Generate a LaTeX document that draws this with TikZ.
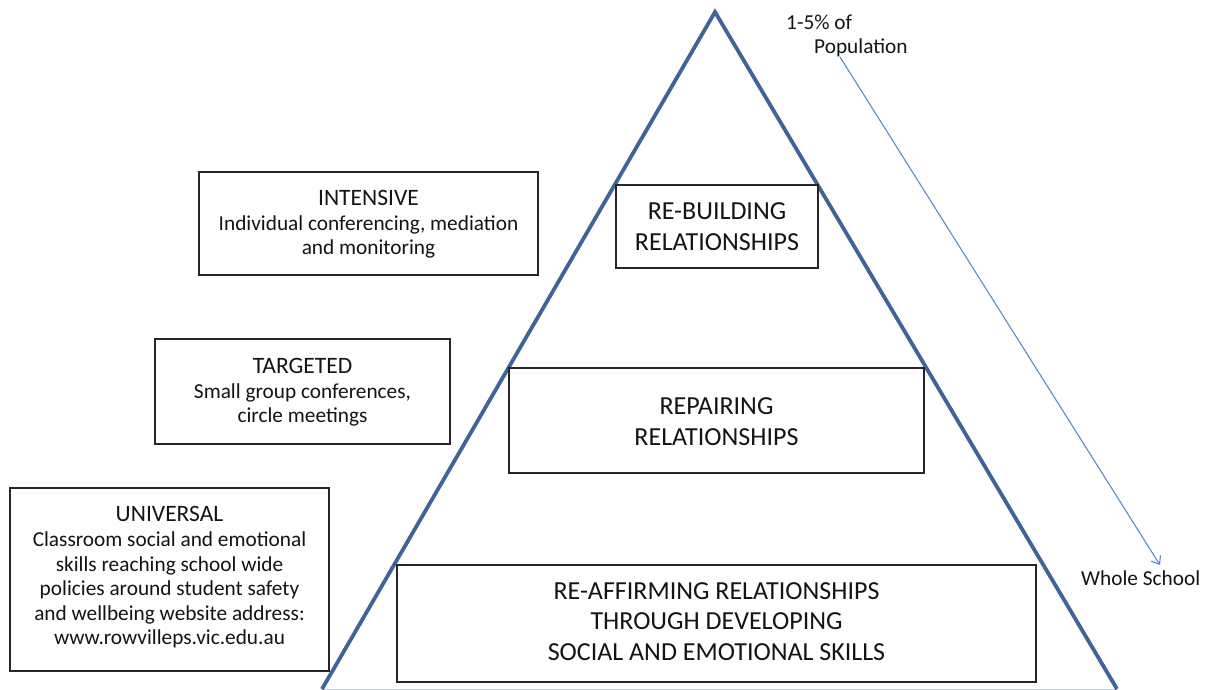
\documentclass[tikz,border=0pt]{standalone}
\usepackage{fontspec}
\setmainfont{Carlito}
\usetikzlibrary{arrows.meta}
\definecolor{triblue}{RGB}{62,100,152}
\definecolor{arrblue}{RGB}{90,138,200}
\definecolor{txt}{RGB}{20,20,20}
\tikzset{
  box/.style={draw=black!85, line width=1.3pt, fill=white, inner sep=0pt, text=txt},
  small/.style={font=\fontsize{21.3}{24.6}\selectfont, align=center, text=txt},
  big/.style={font=\fontsize{26}{30.5}\selectfont, align=center, text=txt},
  lbl/.style={font=\fontsize{21.3}{24}\selectfont, text=txt, inner sep=0pt, anchor=west},
}
\newcommand{\ttlfont}{\fontsize{23.5}{29}\selectfont}
\begin{document}
\begin{tikzpicture}[x=1pt,y=-1pt]
\useasboundingbox (0,0) rectangle (1210,689);
% triangle
\coordinate (apex) at (715,12);
\coordinate (bl) at (322,689);
\coordinate (br) at (1117,689);
\draw[triblue!30, line width=1pt] (bl) -- (br);
\draw[triblue, line width=3.8pt, line join=miter] (bl) -- (apex) -- (br);
% pyramid boxes
\node[box, minimum width=202pt, minimum height=83pt] (rebuild) at (717,226.5) {};
\node[big] at (rebuild.center) {RE-BUILDING\\RELATIONSHIPS};
\node[box, minimum width=415pt, minimum height=105pt] (repair) at (716.5,420.5) {};
\node[big] at ([yshift=-1pt]repair.center) {REPAIRING\\RELATIONSHIPS};
\node[box, minimum width=639pt, minimum height=117pt] (reaff) at (716.5,623.5) {};
\node[big] at ([yshift=2pt]reaff.center) {RE-AFFIRMING RELATIONSHIPS\\THROUGH DEVELOPING\\SOCIAL AND EMOTIONAL SKILLS};
% left boxes
\node[box, minimum width=339pt, minimum height=103pt] (intensive) at (368.5,223.5) {};
\node[small] at ([yshift=-1pt]intensive.center) {{\ttlfont INTENSIVE}\\Individual conferencing, mediation\\and monitoring};
\node[box, minimum width=295pt, minimum height=105pt] (targeted) at (302.5,391.5) {};
\node[small] at ([yshift=-1pt]targeted.center) {{\ttlfont TARGETED}\\Small group conferences,\\circle meetings};
\node[box, minimum width=319pt, minimum height=183pt] (universal) at (169.5,579.5) {};
\node[small] at ([yshift=2pt]universal.center) {{\ttlfont UNIVERSAL}\\Classroom social and emotional\\skills reaching school wide\\policies around student safety\\and wellbeing website address:\\www.rowvilleps.vic.edu.au};
% population arrow
\node[lbl] (pct) at (786,22) {1-5\% of};
\node[lbl] (pop) at (814,48) {Population};
\node[lbl] (whole) at (1081,578) {Whole School};
\coordinate (as) at (840,57);
\coordinate (ae) at (1160,565);
\draw[arrblue, line width=1.1pt, -{Straight Barb[length=7pt,width=11pt]}] (as) -- (ae);
\end{tikzpicture}
\end{document}
